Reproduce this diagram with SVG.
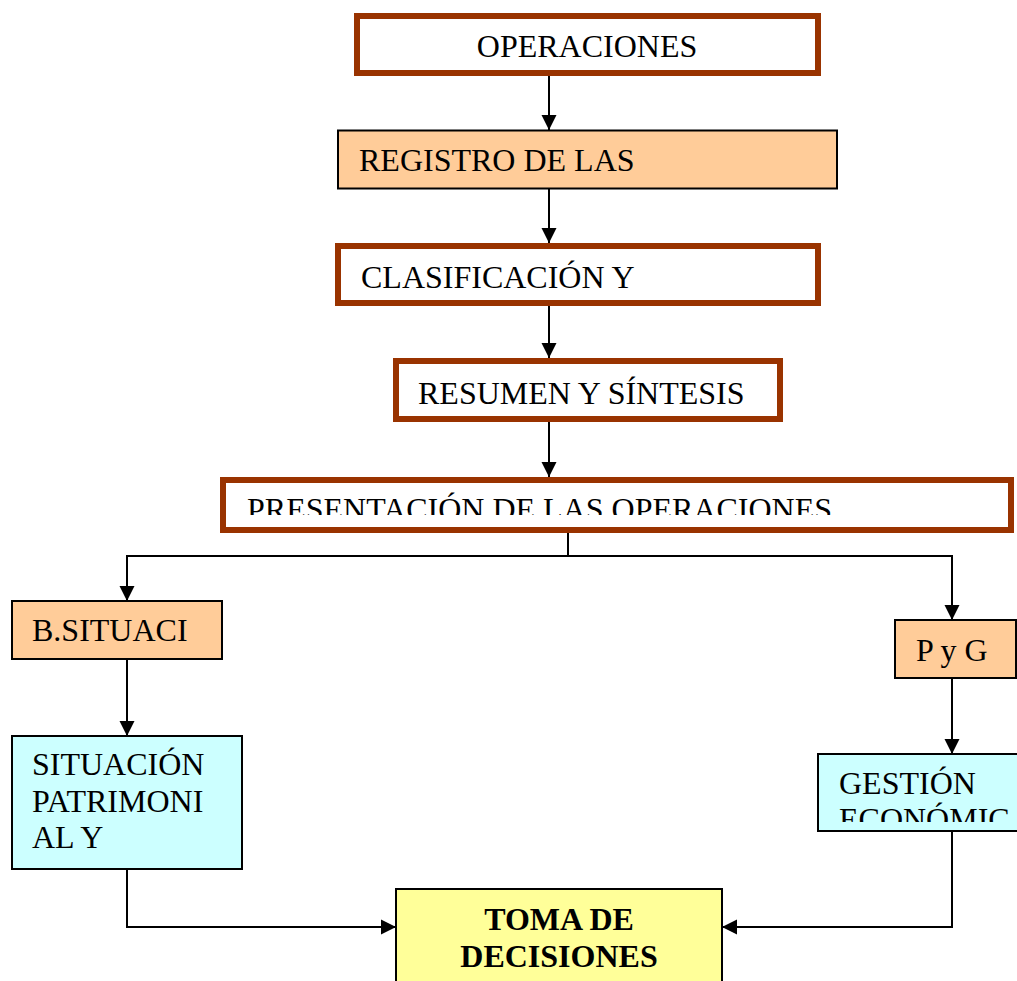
<svg xmlns="http://www.w3.org/2000/svg" width="1017" height="981" viewBox="0 0 1017 981">
<style>
.brown{fill:#ffffff;stroke:#993300;stroke-width:6}
.orange{fill:#ffcc99;stroke:#000;stroke-width:2}
.cyan{fill:#ccffff;stroke:#000;stroke-width:2}
.yellow{fill:#ffff99;stroke:#000;stroke-width:2}
.t{font-family:"Liberation Serif","Times New Roman",serif;font-size:32px;fill:#000}
.b{font-weight:bold}
.c{fill:none;stroke:#000;stroke-width:2}
</style>
<defs>
<marker id="ah" markerUnits="userSpaceOnUse" markerWidth="16" markerHeight="16" viewBox="0 0 16 16" refX="15" refY="8" orient="auto">
<path d="M0,0.5 L15,8 L0,15.5 Z" fill="#000"/>
</marker>
<clipPath id="clipPres"><rect x="226" y="483" width="782" height="32"/></clipPath>
<clipPath id="clipGest"><rect x="819" y="755" width="198" height="67"/></clipPath>
</defs>
<g id="connectors">
<line class="c" x1="549" y1="76" x2="549" y2="130" marker-end="url(#ah)"/>
<line class="c" x1="549" y1="189" x2="549" y2="243" marker-end="url(#ah)"/>
<line class="c" x1="549" y1="306" x2="549" y2="358" marker-end="url(#ah)"/>
<line class="c" x1="549" y1="422" x2="549" y2="477" marker-end="url(#ah)"/>
<polyline class="c" points="568,533 568,556"/>
<polyline class="c" points="952,556 127,556 127,601" marker-end="url(#ah)"/>
<polyline class="c" points="568,556 952,556 952,620" marker-end="url(#ah)"/>
<line class="c" x1="127" y1="659" x2="127" y2="736" marker-end="url(#ah)"/>
<line class="c" x1="952" y1="678" x2="952" y2="754" marker-end="url(#ah)"/>
<polyline class="c" points="127,869 127,927 396,927" marker-end="url(#ah)"/>
<polyline class="c" points="952,831 952,927 722,927" marker-end="url(#ah)"/>
</g>
<g id="operaciones">
<rect class="brown" x="357" y="16" width="461" height="57"/>
<text class="t" x="587" y="57" text-anchor="middle">OPERACIONES</text>
</g>
<g id="registro">
<rect class="orange" x="338" y="130.5" width="499" height="58"/>
<text class="t" x="359" y="171">REGISTRO DE LAS</text>
</g>
<g id="clasificacion">
<rect class="brown" x="338" y="246" width="480" height="57"/>
<text class="t" x="361" y="288">CLASIFICACIÓN Y</text>
</g>
<g id="resumen">
<rect class="brown" x="396" y="361" width="384" height="58"/>
<text class="t" x="418" y="404">RESUMEN Y SÍNTESIS</text>
</g>
<g id="presentacion">
<rect class="brown" x="223" y="480" width="788" height="50"/>
<text class="t" x="247" y="520" clip-path="url(#clipPres)">PRESENTACIÓN DE LAS OPERACIONES</text>
</g>
<g id="bsituacion">
<rect class="orange" x="12" y="601" width="210" height="58"/>
<text class="t" x="32" y="641">B.SITUACI</text>
</g>
<g id="pyg">
<rect class="orange" x="895" y="620" width="121" height="58"/>
<text class="t" x="916" y="661">P y G</text>
</g>
<g id="situacion">
<rect class="cyan" x="12" y="736" width="230" height="133"/>
<text class="t" x="32" y="775">SITUACIÓN</text>
<text class="t" x="32" y="812">PATRIMONI</text>
<text class="t" x="32" y="848">AL Y</text>
</g>
<g id="gestion">
<rect class="cyan" x="818" y="754" width="220" height="77"/>
<g clip-path="url(#clipGest)">
<text class="t" x="839" y="794">GESTIÓN</text>
<text class="t" x="839" y="830">ECONÓMIC</text>
</g>
</g>
<g id="toma">
<rect class="yellow" x="396" y="889" width="326" height="120"/>
<text class="t b" x="559" y="930" text-anchor="middle">TOMA DE</text>
<text class="t b" x="559" y="967" text-anchor="middle">DECISIONES</text>
</g>
</svg>
